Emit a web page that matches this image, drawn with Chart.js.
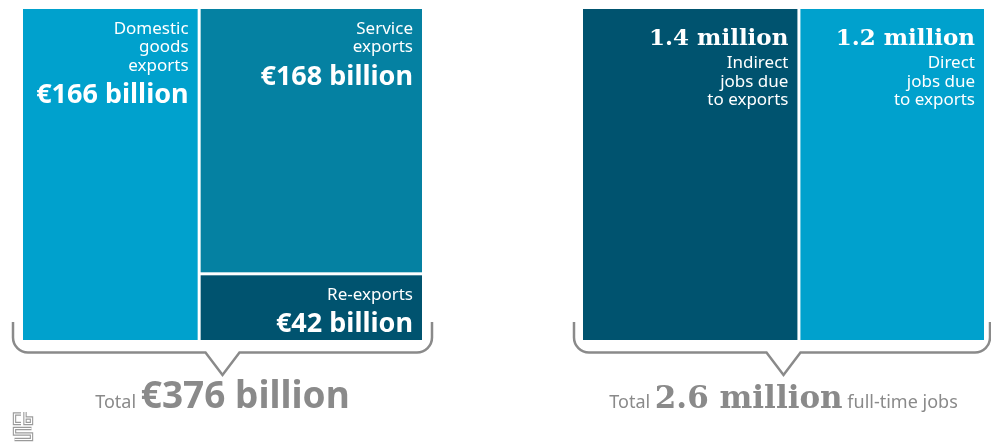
<!DOCTYPE html>
<html>
<head>
<meta charset="utf-8">
<script src="https://cdn.jsdelivr.net/npm/chart.js@4.4.1/dist/chart.umd.min.js"></script>
<style>
  html, body { margin: 0; padding: 0; background: #fff; }
  #wrap { position: relative; width: 991px; height: 444px; overflow: hidden; }
  .box { position: absolute; top: 0; height: 444px; }
</style>
</head>
<body>
<div id="wrap">
  <div class="box" style="left:0;width:450px"><canvas id="exports"></canvas></div>
  <div class="box" style="left:545px;width:446px"><canvas id="jobs"></canvas></div>
</div>
<script>
// exports, € billion
const exportLabels = [['Domestic', 'goods', 'exports'], ['Service', 'exports'], ['Re-exports']];
const exportValues = [166, 168, 42];
const exportColumns = [[0], [1, 2]];
const exportColors = ['#00a1cd', '#0581a2', '#00536f'];

// jobs, million full-time jobs
const jobLabels = [['Indirect', 'jobs due', 'to exports'], ['Direct', 'jobs due', 'to exports']];
const jobValues = [1.4, 1.2];
const jobColumns = [[0], [1]];
const jobColors = ['#00536f', '#00a1cd'];

const GREY = '#8a8a8a';
const SANS = '"Noto Sans", "Open Sans", sans-serif';
const SLAB = '"DejaVu Serif", serif';

const sum = arr => arr.reduce((a, b) => a + b, 0);

// curly bracket under a chart area, pointing at the total
function drawBrace(ctx, area, outL, outR) {
  const cx = (area.left + area.right) / 2;
  const left = area.left - outL, right = area.right + outR;
  const top = area.bottom - 18, mid = area.bottom + 12.5, tip = area.bottom + 35;
  const r = 15, half = 17;
  ctx.save();
  ctx.strokeStyle = GREY;
  ctx.lineWidth = 2.5;
  ctx.lineJoin = 'miter';
  ctx.beginPath();
  ctx.moveTo(left, top);
  ctx.arcTo(left, mid, left + r, mid, r);
  ctx.lineTo(cx - half, mid);
  ctx.lineTo(cx, tip);
  ctx.lineTo(cx + half, mid);
  ctx.arcTo(right, mid, right, mid - r, r);
  ctx.lineTo(right, top);
  ctx.stroke();
  ctx.restore();
}

function drawTotal(ctx, area, parts) {
  const cx = (area.left + area.right) / 2;
  const y = area.bottom + 68;
  ctx.save();
  ctx.fillStyle = GREY;
  ctx.textBaseline = 'alphabetic';
  ctx.textAlign = 'left';
  const widths = parts.map(p => { ctx.font = p.font; return ctx.measureText(p.text).width; });
  let x = cx - sum(widths) / 2;
  parts.forEach((p, i) => {
    ctx.font = p.font;
    ctx.fillText(p.text, x, y);
    x += widths[i];
  });
  ctx.restore();
}

function drawLogo(ctx) {
  const paths = [
    [[21, 414], [14.5, 414], [14.5, 423.5], [21, 423.5]],
    [[25, 412], [25, 423.5], [31.5, 423.5], [31.5, 418], [25, 418]],
    [[31.5, 428.5], [14.5, 428.5], [14.5, 434], [31.5, 434], [31.5, 439.5], [14.5, 439.5]]
  ];
  ctx.save();
  ctx.lineJoin = 'miter';
  [['#9a9a9a', 3.4], ['#fff', 1.2]].forEach(([col, w]) => {
    ctx.strokeStyle = col;
    ctx.lineWidth = w;
    paths.forEach(pts => {
      ctx.beginPath();
      pts.forEach(([px, py], i) => i ? ctx.lineTo(px, py) : ctx.moveTo(px, py));
      ctx.stroke();
    });
  });
  ctx.restore();
}

// draws the tiles from the x/y scales: columns split the x range by value,
// tiles inside a column split the y range
function treemap(cfg) {
  return {
    id: 'treemap',
    afterDraw(chart) {
      const { ctx, chartArea: area, scales: { x, y } } = chart;
      const gap = 1.5, pad = 9;
      ctx.save();
      let colStart = 0;
      cfg.columns.forEach(col => {
        const colTotal = sum(col.map(i => cfg.values[i]));
        let top = 1;
        col.forEach(i => {
          const v = cfg.values[i];
          let x0 = x.getPixelForValue(colStart);
          let x1 = x.getPixelForValue(colStart + colTotal);
          let y0 = y.getPixelForValue(top);
          let y1 = y.getPixelForValue(top - v / colTotal);
          if (x0 > area.left + 0.5) x0 += gap;
          if (x1 < area.right - 0.5) x1 -= gap;
          if (y0 > area.top + 0.5) y0 += gap;
          if (y1 < area.bottom - 0.5) y1 -= gap;
          ctx.fillStyle = cfg.colors[i];
          ctx.fillRect(x0, y0, x1 - x0, y1 - y0);

          // labels, right aligned in the tile
          ctx.fillStyle = '#fff';
          ctx.textAlign = 'right';
          ctx.textBaseline = 'alphabetic';
          const tx = x1 - pad;
          const lines = cfg.labels[i];
          const valueText = cfg.format(v);
          if (cfg.valueFirst) {
            ctx.font = cfg.valueFont;
            ctx.fillText(valueText, tx, y0 + 36);
            ctx.font = cfg.labelFont;
            lines.forEach((l, k) => ctx.fillText(l, tx, y0 + 59 + k * 18.5));
          } else {
            ctx.font = cfg.labelFont;
            lines.forEach((l, k) => ctx.fillText(l, tx, y0 + 24.5 + k * 18.5));
            ctx.font = cfg.valueFont;
            ctx.fillText(valueText, tx, y0 + 24.5 + (lines.length - 1) * 18.5 + 32.5);
          }
          top -= v / colTotal;
        });
        colStart += colTotal;
      });
      ctx.restore();

      drawBrace(ctx, area, cfg.braceOut[0], cfg.braceOut[1]);
      drawTotal(ctx, area, cfg.totalParts);
      if (cfg.logo) drawLogo(ctx);
    }
  };
}

function makeChart(id, values, padding, plugin) {
  return new Chart(document.getElementById(id), {
    type: 'scatter',
    data: { datasets: [] },
    options: {
      responsive: true,
      maintainAspectRatio: false,
      animation: false,
      events: [],
      layout: { padding },
      plugins: { legend: { display: false }, tooltip: { enabled: false } },
      scales: {
        x: { type: 'linear', min: 0, max: sum(values), display: false },
        y: { type: 'linear', min: 0, max: 1, display: false }
      }
    },
    plugins: [plugin]
  });
}

const exportTotal = sum(exportValues);
makeChart('exports', exportValues, { left: 23, right: 28, top: 9, bottom: 104 }, treemap({
  values: exportValues,
  labels: exportLabels,
  colors: exportColors,
  columns: exportColumns,
  valueFirst: false,
  labelFont: '17px ' + SANS,
  valueFont: 'bold 27px ' + SANS,
  format: v => '€' + v + ' billion',
  braceOut: [10, 10],
  logo: true,
  totalParts: [
    { text: 'Total ', font: '18px ' + SANS },
    { text: '€' + exportTotal + ' billion', font: 'bold 37px ' + SANS }
  ]
}));

const jobTotal = sum(jobValues);
makeChart('jobs', jobValues, { left: 38, right: 7, top: 9, bottom: 104 }, treemap({
  values: jobValues,
  labels: jobLabels,
  colors: jobColors,
  columns: jobColumns,
  valueFirst: true,
  labelFont: '17px ' + SANS,
  valueFont: 'bold 23px ' + SLAB,
  format: v => v.toFixed(1) + ' million',
  braceOut: [9, 6],
  logo: false,
  totalParts: [
    { text: 'Total ', font: '18px ' + SANS },
    { text: jobTotal.toFixed(1) + ' million', font: 'bold 31px ' + SLAB },
    { text: ' full-time jobs', font: '18px ' + SANS }
  ]
}));
</script>
</body>
</html>
